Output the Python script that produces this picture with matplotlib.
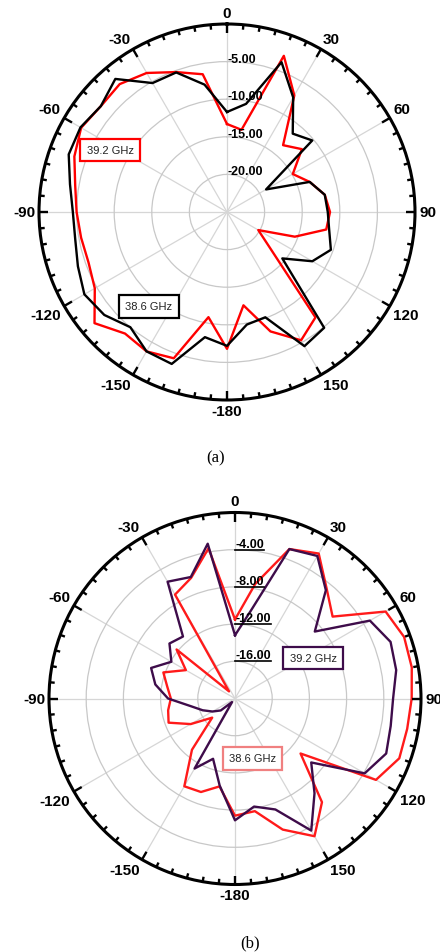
import numpy as np
import matplotlib.pyplot as plt
from matplotlib.lines import Line2D

plt.rcParams['font.family'] = ['Liberation Sans', 'DejaVu Sans']

# angles in degrees, clockwise from the top (0, 10, ..., 350; 190 == -170)
ANGLES = list(range(0, 360, 10))

# (a) gain in dB
A_392 = [-13.3, -13.9, -2.9, -7.1, -13.4, -12.0, -14.9, -13.3, -11.8, -11.3,
         -11.6, -15.4, -20.2, -17.5, -6.7, -5.3, -8.1, -12.4, -6.8, -10.8,
         -4.3, -3.6, -3.9, -2.0, -4.7, -5.4, -5.3, -5.0, -4.5, -3.4,
         -2.6, -3.1, -2.8, -3.65, -5.2, -6.4]
A_386 = [-11.7, -10.4, -3.8, -7.4, -11.4, -10.2, -19.0, -13.3, -11.8, -11.6,
         -11.2, -10.3, -11.9, -15.4, -4.9, -4.4, -10.1, -9.8, -7.2, -8.1,
         -3.5, -3.6, -5.0, -3.7, -3.1, -3.9, -4.5, -4.5, -3.8, -2.6,
         -2.5, -3.1, -1.9, -5.2, -5.25, -7.8]

# (b) gain in dB
B_392 = [-13.2, -10.5, -2.9, -2.3, -4.8, -8.8, -3.25, -2.2, -2.4, -3.0,
         -3.0, -2.7, -3.9, -9.3, -6.7, -3.6, -7.3, -8.2, -6.9, -10.5,
         -13.1, -11.3, -19.5, -18.0, -17.2, -16.3, -15.2, -12.8, -11.3, -10.4,
         -12.1, -10.8, -11.3, -5.5, -6.1, -3.1]
B_386 = [-11.5, -7.5, -2.9, -2.0, -4.65, -6.3, -1.3, -0.65, -0.7, -1.0,
         -1.2, -1.2, -2.5, -10.8, -5.45, -2.9, -5.0, -7.7, -7.4, -10.4,
         -9.3, -9.1, -12.8, -16.8, -14.5, -12.4, -12.7, -13.1, -12.6, -11.8,
         -13.9, -11.8, -19.0, -7.1, -6.2, -3.6]

A_RTICKS = [-20, -15, -10, -5]
B_RTICKS = [-16, -12, -8, -4]
THETA_TICKS = list(range(0, 360, 30))
THETA_LABELS = ["0", "30", "60", "90", "120", "150",
                "-180", "-150", "-120", "-90", "-60", "-30"]

W, H = 440, 953
fig = plt.figure(figsize=(W / 100, H / 100), dpi=100)


def polar_axes(cx, cy, rad, rmin):
    ax = fig.add_axes([(cx - rad) / W, 1 - (cy + rad) / H, 2 * rad / W, 2 * rad / H],
                      projection='polar')
    ax.set_theta_zero_location('N')
    ax.set_theta_direction(-1)
    ax.set_rlim(rmin, 0)
    ax.set_xticks(np.deg2rad(THETA_TICKS))
    ax.set_xticklabels([])
    ax.tick_params(axis='x', length=0)
    ax.xaxis.grid(True, color='#d6d6d6', lw=0.9)
    ax.yaxis.grid(True, color='#c8c8c8', lw=0.9)
    ax.spines['polar'].set_linewidth(2.2)
    ax.spines['polar'].set_color('black')

    # inward tick marks on the rim, every 5 degrees, longer every 30
    per_px = -rmin / rad
    for deg in range(0, 360, 5):
        t = np.deg2rad(deg)
        ln = 9 if deg % 30 == 0 else 5
        ax.plot([t, t], [-ln * per_px, 0], color='black', lw=1.7,
                solid_capstyle='butt', clip_on=False, zorder=4)

    for deg, lab in zip(THETA_TICKS, THETA_LABELS):
        t = np.deg2rad(deg)
        s, c = np.sin(t), np.cos(t)
        ha = 'left' if s > 0.1 else ('right' if s < -0.1 else 'center')
        va = 'bottom' if c > 0.1 else ('top' if c < -0.1 else 'center')
        ax.annotate(lab, xy=(t, 0), xytext=(4 * s, 4 * c), textcoords='offset pixels',
                    ha=ha, va=va, fontsize=11, fontweight='bold', annotation_clip=False)
    return ax


def draw(ax, vals, color):
    th = np.deg2rad(ANGLES + [ANGLES[0]])
    ax.plot(th, list(vals) + [vals[0]], color=color, lw=1.7, zorder=3)


def box(x, y, text, ec):
    fig.text(x / W, 1 - y / H, text, ha='center', va='center', fontsize=8,
             color='#222222', zorder=5,
             bbox=dict(boxstyle='square,pad=0.55', fc='white', ec=ec, lw=1.6))


# (a)
ax1 = polar_axes(227, 213, 188, -25)
ax1.set_yticks(A_RTICKS)
ax1.set_yticklabels([])
draw(ax1, A_392, '#ff0000')
draw(ax1, A_386, '#000000')
for r in A_RTICKS:
    ax1.annotate(f"{r:.2f}", xy=(0, r), xytext=(1, 3), textcoords='offset pixels',
                 ha='left', va='center', fontsize=9, fontweight='bold')
box(110, 151, "39.2 GHz", '#ff0000')
box(149, 307.5, "38.6 GHz", '#000000')
fig.text(216 / W, 1 - 458 / H, "(a)", ha='center', va='center', fontsize=12,
         family=['Liberation Serif', 'DejaVu Serif'])

# (b)
ax2 = polar_axes(235, 699.5, 186, -20)
ax2.set_yticks(B_RTICKS)
ax2.set_yticklabels([])
draw(ax2, B_386, '#ff1a1a')
draw(ax2, B_392, '#3e0c4a')
rlabels = []
for r in B_RTICKS:
    t = ax2.annotate(f"{r:.2f}", xy=(0, r), xytext=(0, 3), textcoords='offset pixels',
                     ha='left', va='baseline', fontsize=9, fontweight='bold')
    rlabels.append((r, t))
box(313, 659, "39.2 GHz", '#3e0c4a')
box(252.7, 759.5, "38.6 GHz", '#f08080')
fig.text(250 / W, 1 - 943 / H, "(b)", ha='center', va='center', fontsize=12,
         family=['Liberation Serif', 'DejaVu Serif'])

# underline the radial labels of (b)
fig.canvas.draw()
for r, t in rlabels:
    bb = t.get_window_extent()
    x0, y0 = ax2.transData.transform((0, r))
    fig.add_artist(Line2D([bb.x0, bb.x1], [y0, y0], transform=None,
                          color='black', lw=1.2, zorder=6))

fig.savefig("out.png", dpi=100)
